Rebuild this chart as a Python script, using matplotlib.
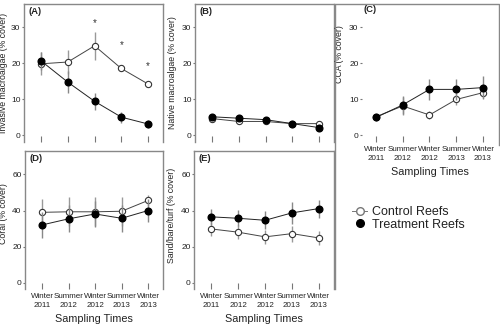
import numpy as np
import matplotlib.pyplot as plt
from matplotlib.lines import Line2D

plt.rcParams['font.family'] = ['Liberation Sans', 'DejaVu Sans']
plt.rcParams['text.color'] = '#222222'
plt.rcParams['axes.labelcolor'] = '#222222'
plt.rcParams['xtick.color'] = '#777777'
plt.rcParams['ytick.color'] = '#777777'
plt.rcParams['xtick.labelcolor'] = '#222222'
plt.rcParams['ytick.labelcolor'] = '#222222'

# sampling times
times = ['Winter\n2011', 'Summer\n2012', 'Winter\n2012', 'Summer\n2013', 'Winter\n2013']
x = np.arange(1, 6)

# invasive macroalgae (% cover), mean and SE
inv_ctrl = [19.8, 20.3, 24.8, 18.5, 14.2]
inv_ctrl_se = [3.2, 3.2, 3.9, 0.8, 0.7]
inv_trt = [20.6, 14.7, 9.4, 5.0, 3.1]
inv_trt_se = [2.5, 3.0, 2.3, 1.5, 1.0]
inv_sig_x = [3, 4, 5]
inv_sig_y = [31.2, 25.0, 19.3]

# native macroalgae
nat_ctrl = [4.6, 3.8, 3.8, 3.2, 3.2]
nat_ctrl_se = [0.7, 0.6, 0.6, 0.6, 0.6]
nat_trt = [5.1, 4.7, 4.3, 3.2, 2.1]
nat_trt_se = [0.8, 0.7, 0.7, 0.7, 0.6]

# crustose coralline algae
cca_ctrl = [5.1, 8.1, 5.6, 9.9, 11.8]
cca_ctrl_se = [0.8, 2.5, 1.0, 1.5, 1.5]
cca_trt = [4.9, 8.4, 12.7, 12.7, 13.2]
cca_trt_se = [1.0, 2.6, 3.0, 3.0, 3.2]

# coral
coral_ctrl = [39.0, 39.3, 39.3, 39.6, 45.6]
coral_ctrl_se = [7.4, 8.0, 8.0, 7.9, 3.0]
coral_trt = [32.0, 35.4, 38.1, 35.7, 40.0]
coral_trt_se = [7.0, 7.5, 7.0, 7.4, 6.5]

# sand / bare / turf
sand_ctrl = [29.8, 28.0, 25.4, 27.2, 24.8]
sand_ctrl_se = [4.0, 4.0, 4.0, 4.5, 4.0]
sand_trt = [36.5, 35.7, 34.6, 38.7, 41.1]
sand_trt_se = [4.5, 4.5, 5.0, 6.0, 5.0]

W, H = 500, 326
fig = plt.figure(figsize=(5.0, 3.26), dpi=100)


def px_axes(l, t, r, b):
    return fig.add_axes([l / W, 1 - b / H, (r - l) / W, (b - t) / H])


def draw(ax, ctrl, ctrl_se, trt, trt_se):
    ax.errorbar(x, ctrl, yerr=ctrl_se, fmt='-o', color='#444444', lw=0.7,
                mfc='white', mec='#333333', mew=0.8, ms=4.5,
                ecolor='#999999', elinewidth=1.0, capsize=0, zorder=3)
    ax.errorbar(x, trt, yerr=trt_se, fmt='-o', color='#222222', lw=0.7,
                mfc='black', mec='black', ms=4.8,
                ecolor='#888888', elinewidth=1.0, capsize=0, zorder=4)


def style(ax, ylim, yticks, label, label_x, label_y, show_x):
    ax.set_xlim(0.36, 5.56)
    ax.set_ylim(*ylim)
    ax.set_yticks(yticks)
    ax.set_xticks(x)
    ax.spines['bottom'].set_visible(False)
    for s in ['left', 'top', 'right']:
        ax.spines[s].set_color('#888888')
        ax.spines[s].set_linewidth(1.0)
    ax.tick_params(axis='x', direction='in', length=4, width=0.8, labelsize=5.8, pad=3)
    ax.tick_params(axis='y', direction='out', length=1.5, width=0.8, labelsize=6.0, pad=1)
    if show_x:
        ax.set_xticklabels(times, linespacing=1.3)
        ax.set_xlabel('Sampling Times', fontsize=7.8, labelpad=4)
    else:
        ax.set_xticklabels([])
    ax.set_ylabel(label, fontsize=6.3)
    ax.yaxis.set_label_coords(label_x, label_y)


# (A) invasive macroalgae
axA = px_axes(24, 4, 163, 142)
draw(axA, inv_ctrl, inv_ctrl_se, inv_trt, inv_trt_se)
for sx, sy in zip(inv_sig_x, inv_sig_y):
    axA.text(sx, sy, '*', ha='center', va='center', fontsize=7, color='#333333')
style(axA, (-1.9, 36.4), [0, 10, 20, 30], 'Invasive macroalgae (% cover)',
      -0.117, 0.5, False)
axA.text(0.035, 0.975, '(A)', transform=axA.transAxes, ha='left', va='top',
         fontsize=6.8, fontweight='bold')

# (B) native macroalgae
axB = px_axes(195, 4, 334, 142)
draw(axB, nat_ctrl, nat_ctrl_se, nat_trt, nat_trt_se)
style(axB, (-1.9, 36.4), [0, 10, 20, 30], 'Native macroalgae (% cover)',
      -0.13, 0.5, False)
axB.text(0.035, 0.975, '(B)', transform=axB.transAxes, ha='left', va='top',
         fontsize=6.8, fontweight='bold')

# (C) CCA, drawn without its own frame inside the right-hand box
axC = px_axes(362, 4, 498, 142)
draw(axC, cca_ctrl, cca_ctrl_se, cca_trt, cca_trt_se)
style(axC, (-1.9, 36.4), [0, 10, 20, 30], 'CCA (% cover)', -0.13, 0.64, True)
axC.set_xlim(0.48, 5.56)
for s in axC.spines.values():
    s.set_visible(False)
fig.text(363 / W, 1 - 5 / H, '(C)', ha='left', va='top', fontsize=6.8, fontweight='bold')

# box around panel C and the legend
fig.add_artist(Line2D([335 / W, 335 / W, 499 / W, 499 / W],
                      [1 - 289 / H, 1 - 4 / H, 1 - 4 / H, 1 - 145 / H],
                      transform=fig.transFigure, color='#888888', lw=1.0))

# (D) coral
axD = px_axes(25, 151, 163, 289)
draw(axD, coral_ctrl, coral_ctrl_se, coral_trt, coral_trt_se)
style(axD, (-3.5, 73), [0, 20, 40, 60], 'Coral (% cover)', -0.125, 0.55, True)
axD.text(0.035, 0.975, '(D)', transform=axD.transAxes, ha='left', va='top',
         fontsize=6.8, fontweight='bold')

# (E) sand / bare / turf
axE = px_axes(194, 151, 334, 289)
draw(axE, sand_ctrl, sand_ctrl_se, sand_trt, sand_trt_se)
style(axE, (-3.5, 73), [0, 20, 40, 60], 'Sand/bare/turf (% cover)', -0.13, 0.53, True)
axE.text(0.035, 0.975, '(E)', transform=axE.transAxes, ha='left', va='top',
         fontsize=6.8, fontweight='bold')

handles = [
    Line2D([], [], color='#777777', lw=0.7, marker='o', mfc='white', mec='#777777', ms=5.5),
    Line2D([], [], ls='none', marker='o', mfc='black', mec='black', ms=5.5),
]
fig.legend(handles, ['Control Reefs', 'Treatment Reefs'], loc='upper left',
           bbox_to_anchor=(352 / W, 1 - 206 / H), frameon=False, fontsize=9,
           handlelength=1.2, handletextpad=0.4, labelspacing=0.05,
           borderpad=0, borderaxespad=0)

fig.savefig('out.png', dpi=100)
